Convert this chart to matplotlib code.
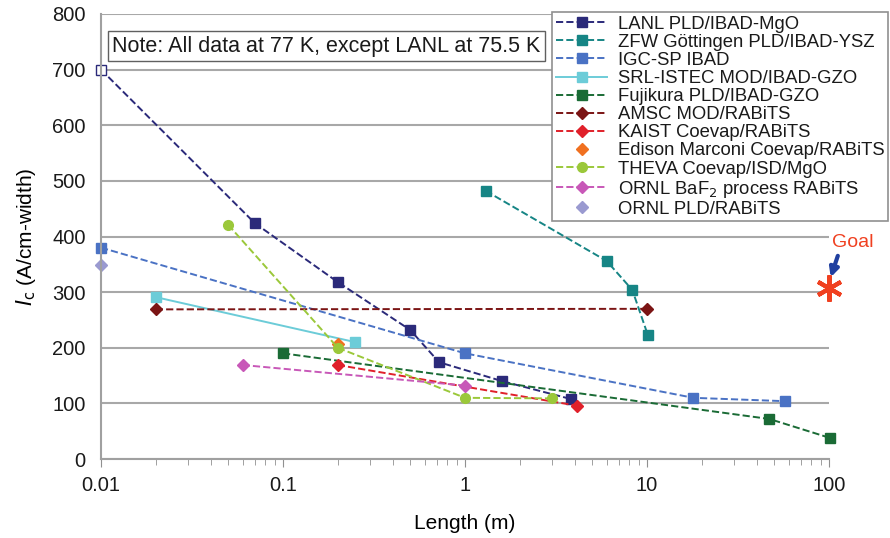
import numpy as np
import matplotlib.pyplot as plt
from matplotlib.ticker import FixedLocator, FuncFormatter, LogLocator, NullFormatter

# data (length in m, Ic in A/cm-width)
lanl_x = [0.01, 0.07, 0.2, 0.5, 0.72, 1.6, 3.8]
lanl_y = [700, 424, 318, 232, 174, 140, 108]
zfw_x = [1.3, 6.0, 8.3, 10.1]
zfw_y = [482, 356, 304, 223]
igc_x = [0.01, 1, 18, 57]
igc_y = [380, 190, 110, 104]
srl_x = [0.02, 0.25]
srl_y = [291, 210]
fuji_x = [0.1, 47, 101]
fuji_y = [190, 72, 38]
amsc_x = [0.02, 10]
amsc_y = [269, 270]
kaist_x = [0.2, 4.1]
kaist_y = [169, 96]
edison_x = [0.2]
edison_y = [206]
theva_x = [0.05, 0.2, 1, 3.0]
theva_y = [421, 200, 110, 109]
baf2_x = [0.06, 1]
baf2_y = [169, 132]
ornlpld_x = [0.01]
ornlpld_y = [349]
goal_x, goal_y = 100, 307

plt.rcParams['font.family'] = ['Liberation Sans', 'DejaVu Sans']
plt.rcParams['text.color'] = '#1a1a1a'

fig = plt.figure(figsize=(8.9, 5.38), dpi=100)
ax = fig.add_axes([0.1135, 0.1468, 0.818, 0.8272])

ms = 7.5
ax.plot(lanl_x[1:], lanl_y[1:], '--s', color='#2B2A7A', ms=ms, lw=1.4, label='LANL PLD/IBAD-MgO')
ax.plot(lanl_x[:2], lanl_y[:2], '--', color='#2B2A7A', lw=1.4)
ax.plot(lanl_x[:1], lanl_y[:1], 's', mfc='white', mec='#2B2A7A', ms=ms, clip_on=False)
ax.plot(zfw_x, zfw_y, '--s', color='#168585', ms=ms, lw=1.4, label='ZFW Göttingen PLD/IBAD-YSZ')
ax.plot(igc_x, igc_y, '--s', color='#4A72C4', ms=ms, lw=1.4, label='IGC-SP IBAD', clip_on=False)
ax.plot(srl_x, srl_y, '-s', color='#6CCCD8', ms=ms, lw=1.4, label='SRL-ISTEC MOD/IBAD-GZO')
ax.plot(fuji_x, fuji_y, '--s', color='#1A6B35', ms=ms, lw=1.4, label='Fujikura PLD/IBAD-GZO', clip_on=False)
ax.plot(amsc_x, amsc_y, '--D', color='#7B1414', ms=6.5, lw=1.4, label='AMSC MOD/RABiTS')
ax.plot(kaist_x, kaist_y, '--D', color='#E0202A', ms=6.5, lw=1.4, label='KAIST Coevap/RABiTS')
ax.plot(edison_x, edison_y, 'D', color='#F07020', ms=6.5, label='Edison Marconi Coevap/RABiTS')
ax.plot(theva_x, theva_y, '--o', color='#9BC83A', ms=7, lw=1.4, label='THEVA Coevap/ISD/MgO')
ax.plot(baf2_x, baf2_y, '--D', color='#C858B8', ms=6.5, lw=1.4, label='ORNL BaF$_2$ process RABiTS')
ax.plot(ornlpld_x, ornlpld_y, 'D', color='#9A9AD0', ms=6.5, label='ORNL PLD/RABiTS', clip_on=False)

# goal marker
ax.plot(goal_x, goal_y, marker=(6, 2, 0), color='#F04020', ms=19, mew=3, clip_on=False, zorder=5)
ax.text(135, 389, 'Goal', color='#F04020', fontsize=14, ha='center', va='center')
ax.annotate('', xy=(101, 322), xytext=(113, 370),
            arrowprops=dict(arrowstyle='-|>', color='#2040A0', lw=3, mutation_scale=13),
            annotation_clip=False)

ax.set_xscale('log')
ax.set_xlim(0.01, 100)
ax.set_ylim(0, 800)
ax.set_yticks(np.arange(0, 801, 100))
ax.xaxis.set_major_locator(FixedLocator([0.01, 0.1, 1, 10, 100]))
ax.xaxis.set_major_formatter(FuncFormatter(lambda v, p: f'{v:g}'))
ax.xaxis.set_minor_locator(LogLocator(base=10, subs=np.arange(2, 10)))
ax.xaxis.set_minor_formatter(NullFormatter())
ax.tick_params(axis='x', which='major', length=6, color='#909090', labelsize=14.5, pad=6,
               labelcolor='#1a1a1a')
ax.tick_params(axis='x', which='minor', length=4, color='#909090')
ax.tick_params(axis='y', length=0, labelsize=14.5, pad=11, labelcolor='#1a1a1a')

ax.grid(axis='y', color='#A8A8A8', lw=1.5)
ax.set_axisbelow(True)
for s in ['top', 'right']:
    ax.spines[s].set_visible(False)
for s in ['left', 'bottom']:
    ax.spines[s].set_color('#A0A0A0')
    ax.spines[s].set_linewidth(1.5)

ax.set_xlabel('Length (m)', fontsize=15, labelpad=14)
ax.set_ylabel('$I_\\mathrm{c}$ (A/cm-width)', fontsize=15, labelpad=10)

ax.text(0.01149, 742, 'Note: All data at 77 K, except LANL at 75.5 K', fontsize=15.5, va='center',
        bbox=dict(boxstyle='square,pad=0.2', fc='white', ec='#606060', lw=1))

leg = fig.legend(loc='upper left', bbox_to_anchor=(552 / 890, 1 - 12 / 538), fontsize=13.3,
                 frameon=True, fancybox=False, edgecolor='#909090', framealpha=1,
                 handlelength=2.8, labelspacing=0.06, borderpad=0.2, handletextpad=0.55,
                 borderaxespad=0)
leg.get_frame().set_linewidth(1.2)

fig.savefig('out.png', dpi=100)
